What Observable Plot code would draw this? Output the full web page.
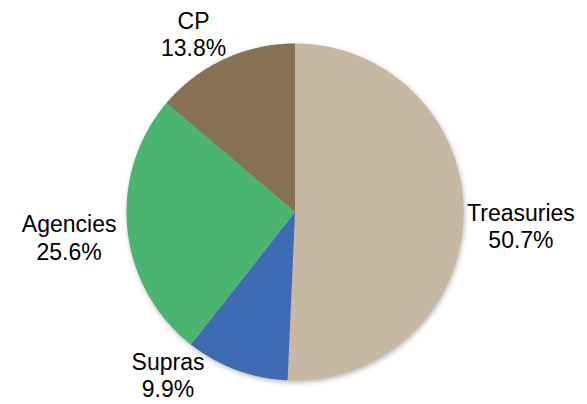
<!DOCTYPE html>
<html>
<head>
<meta charset="utf-8">
<script src="https://cdn.jsdelivr.net/npm/d3@7"></script>
<script src="https://cdn.jsdelivr.net/npm/@observablehq/plot@0.6"></script>
<style>
  html, body { margin: 0; padding: 0; background: #fff; }
  #chart svg { display: block; }
  #chart g[aria-label="line"] { filter: drop-shadow(1px 2px 2.5px rgba(0,0,0,0.28)); }
</style>
</head>
<body>
<div id="chart"></div>
<script>
// Data (clockwise from 12 o'clock)
const categories = ["Treasuries", "Supras", "Agencies", "CP"];
const shares = [50.7, 9.9, 25.6, 13.8];
const colors = ["#C6B8A2", "#3F6AB4", "#4AB471", "#877153"];

// Label nudges in pixels (layout only)
const labelDx = [57.5, -68.4, -58.2, -30.7];
const labelDy = [10, 4.5, 8.4, -25.5];

// Build slice polygons from the shares
const total = d3.sum(shares);
const slices = [];
const mids = [];
let acc = 0;
categories.forEach((name, i) => {
  const a0 = acc / total * 2 * Math.PI;
  acc += shares[i];
  const a1 = acc / total * 2 * Math.PI;
  const n = Math.max(2, Math.ceil((a1 - a0) / (Math.PI / 360)));
  slices.push({name, x: 0, y: 0});
  for (let k = 0; k <= n; k++) {
    const a = a0 + (a1 - a0) * k / n;
    slices.push({name, x: Math.sin(a), y: Math.cos(a)});
  }
  slices.push({name, x: 0, y: 0});
  const am = (a0 + a1) / 2;
  mids.push({name, x: Math.sin(am), y: Math.cos(am), label: `${name}\n${shares[i].toFixed(1)}%`});
});

const labelMarks = mids.map((m, i) => Plot.text([m], {
  x: "x", y: "y", text: "label",
  dx: labelDx[i], dy: labelDy[i],
  textAnchor: "middle", lineAnchor: "middle", lineHeight: 1.2,
  fill: "#000", fontSize: 23, fontFamily: "Liberation Sans, Arial, sans-serif"
}));

const chart = Plot.plot({
  width: 587,
  height: 404,
  marginLeft: 126,
  marginRight: 124,
  marginTop: 43,
  marginBottom: 24,
  x: {domain: [-1, 1], axis: null},
  y: {domain: [-1, 1], axis: null},
  color: {domain: categories, range: colors},
  style: {background: "#fff", overflow: "visible"},
  marks: [
    Plot.line(slices, {x: "x", y: "y", z: "name", fill: "name", stroke: "none", curve: "linear"}),
    ...labelMarks
  ]
});
document.getElementById("chart").appendChild(chart);
</script>
</body>
</html>
